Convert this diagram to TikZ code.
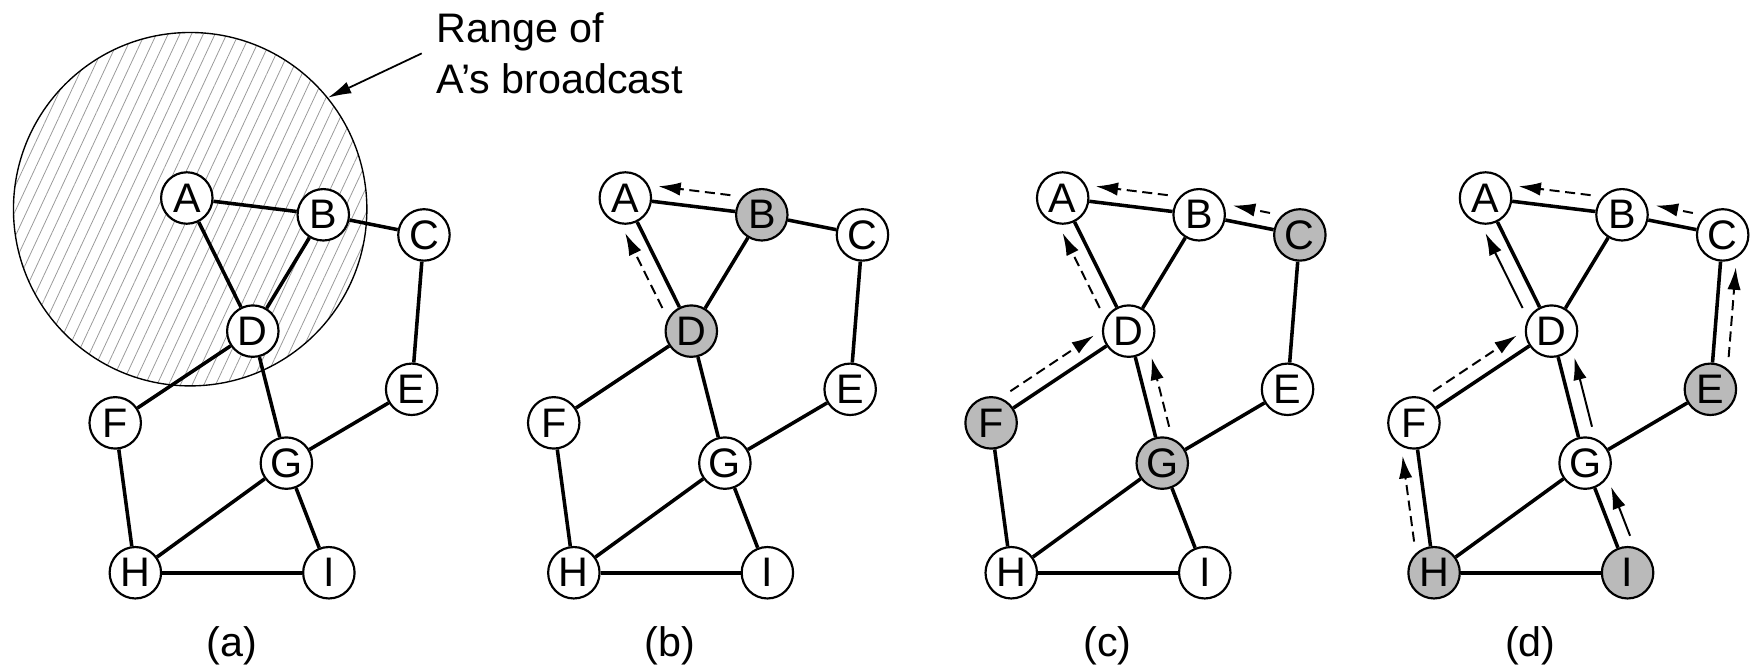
\documentclass[tikz,border=0pt]{standalone}
\usepackage{fontspec}
\setmainfont{Liberation Sans}
\usetikzlibrary{calc,arrows.meta,patterns.meta}

\tikzstyle{station}=[circle, draw, line width=1.1pt, fill=white, minimum size=0.92cm, inner sep=0pt]
\tikzstyle{link}=[line width=1.8pt]
\tikzstyle{sent}=[line width=1pt, -{Latex[length=0.4cm, width=0.24cm]}]
\tikzstyle{fwd}=[sent, dash pattern=on 0.18cm off 0.1cm]
\tikzstyle{lit}=[fill=black!27]

% one copy of the network: prefix, x offset, shaded nodes
\newcommand{\network}[3]{
  \begin{scope}[shift={(#2,0)}, #3]
    \foreach \n/\px/\py in {A/167/177, B/289/192, C/379/210, D/226/296, E/368/348,
                            F/103/378, G/256/414, H/121/512, I/294/512}
      \node[station, hot \n/.try] (#1\n) at (\px,\py) {\n};
    \foreach \u/\v in {A/B, B/C, A/D, B/D, C/E, D/F, D/G, E/G, F/H, G/H, G/I, H/I}
      \draw[link] (#1\u) -- (#1\v);
    \node (#1cap) at (207,577) {(#1)};
  \end{scope}}

% copy of the packet from #2 to #3, #4 = side of the link
\newcommand{\relay}[4][fwd]{
  \draw[#1, shorten <=0.6cm, shorten >=0.56cm]
    ($(#2)!0.28cm!#4:(#3)$) -- ++($(#3)-(#2)$);}

\begin{document}
\begin{tikzpicture}[x=0.02cm, y=-0.02cm, font=\fontsize{21}{26}\selectfont]
  \useasboundingbox (0,0) rectangle (1568,600);

  \node[circle, draw, line width=0.7pt, minimum size=6.32cm, inner sep=0pt,
        pattern={Lines[angle=65, distance=0.19cm, line width=0.4pt]},
        pattern color=black!40] (range) at (170,187) {};
  \node[anchor=north west, inner sep=0pt, align=left] (note) at (390,11) {Range of\\A’s broadcast};
  \draw[line width=0.9pt, -{Latex[length=0.42cm, width=0.22cm]}] ([xshift=-0.26cm]note.west) -- (range.39);

  \network{a}{0}{}
  \network{b}{392}{hot B/.style=lit, hot D/.style=lit}
  \network{c}{783}{hot C/.style=lit, hot F/.style=lit, hot G/.style=lit}
  \network{d}{1161}{hot E/.style=lit, hot H/.style=lit, hot I/.style=lit}

  % (b)
  \relay{bB}{bA}{-90}
  \relay{bD}{bA}{90}
  % (c)
  \relay{cB}{cA}{-90}
  \relay{cC}{cB}{-90}
  \relay{cD}{cA}{90}
  \relay{cF}{cD}{90}
  \relay{cG}{cD}{-90}
  % (d)
  \relay{dB}{dA}{-90}
  \relay{dC}{dB}{-90}
  \relay[sent]{dD}{dA}{90}
  \relay{dF}{dD}{90}
  \relay[sent]{dG}{dD}{-90}
  \relay[sent]{dI}{dG}{-90}
  \relay{dH}{dF}{90}
  \relay{dE}{dC}{-90}
\end{tikzpicture}
\end{document}
